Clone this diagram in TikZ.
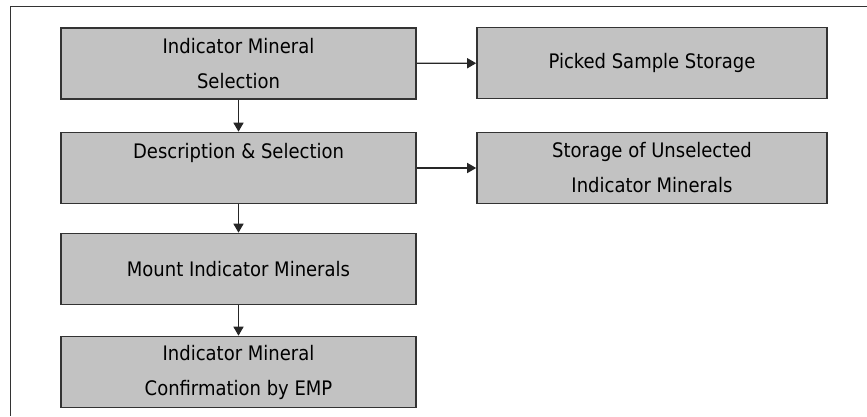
\documentclass[tikz,border=0pt]{standalone}
\usepackage{fontspec}
\setmainfont{DejaVu Sans Condensed}
\usetikzlibrary{arrows.meta}
\definecolor{boxgray}{HTML}{C2C2C2}
\definecolor{linegray}{HTML}{333333}
\begin{document}
\begin{tikzpicture}[x=1pt, y=-1pt, text centered]
    \tikzset{%
      stage/.style={fill=boxgray, draw=linegray, line width=1.6pt,
        minimum width=355pt, minimum height=71pt, inner sep=0pt,
        align=center, font=\fontsize{20}{35}\selectfont},
      store/.style={stage, minimum width=350pt},
      flow/.style={draw=black!85, line width=1.4pt, -{Triangle[length=9pt, width=10pt]}}
      }
    \useasboundingbox (0,0) rectangle (867,416);
    \draw [line width=1pt, black!80] (867,6) -- (10,6) -- (10,416);

    \node [stage] (Sel) at (238.5,63.5) {Indicator Mineral\\Selection};
    \node [stage] (Desc) at (238.5,168) {Description \& Selection\\\mbox{}};
    \node [stage] (Mount) at (238.5,269) {Mount Indicator Minerals};
    \node [stage] (Conf) at (238.5,372) {Indicator Mineral\\Confirmation by EMP};

    \node [store] (Pick) at (652,63) {Picked Sample Storage};
    \node [store] (Unsel) at (652,168) {Storage of Unselected\\Indicator Minerals};

    \draw [flow] (Sel) -- (Desc);
    \draw [flow] (Desc) -- (Mount);
    \draw [flow] (Mount) -- (Conf);
    \draw [flow] (Sel) -- (Pick);
    \draw [flow] (Desc) -- (Unsel);

  \end{tikzpicture}
\end{document}
